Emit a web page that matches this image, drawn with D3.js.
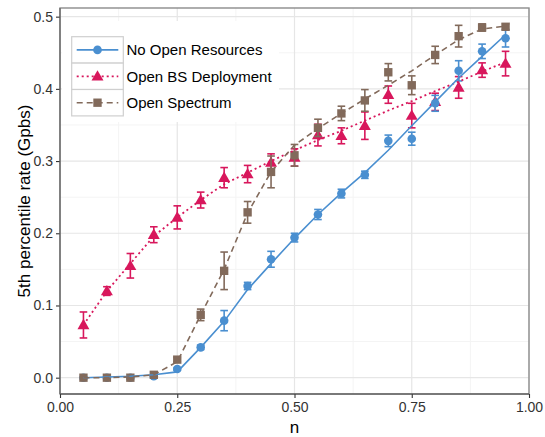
<!DOCTYPE html>
<html>
<head>
<meta charset="utf-8">
<script src="https://cdn.jsdelivr.net/npm/d3@7"></script>
<style>
  html, body { margin: 0; padding: 0; background: #fff; }
  svg { display: block; font-family: "Liberation Sans", Arial, Helvetica, sans-serif; }
</style>
</head>
<body>
<svg id="chart" width="545" height="437"></svg>
<script>
// ---- data ----
const nValues = [0.05,0.10,0.15,0.20,0.25,0.30,0.35,0.40,0.45,0.50,0.55,0.60,0.65,0.70,0.75,0.80,0.85,0.90,0.95];

const seriesNames = ["No Open Resources", "Open BS Deployment", "Open Spectrum"];

// mean values
const noOpenMean   = [0.000,0.000,0.000,0.002,0.012,0.042,0.079,0.127,0.164,0.194,0.226,0.255,0.281,0.328,0.331,0.380,0.425,0.452,0.470];
const openBSMean   = [0.073,0.120,0.155,0.198,0.222,0.246,0.277,0.282,0.298,0.305,0.336,0.335,0.349,0.392,0.363,0.382,0.402,0.426,0.435];
const openSpecMean = [0.000,0.000,0.000,0.004,0.025,0.087,0.148,0.229,0.285,0.308,0.346,0.366,0.384,0.423,0.405,0.447,0.473,0.485,0.486];

// error half-widths
const noOpenErr   = [0.000,0.000,0.000,0.001,0.002,0.003,0.014,0.005,0.011,0.006,0.007,0.006,0.005,0.008,0.009,0.011,0.014,0.010,0.012];
const openBSErr   = [0.018,0.006,0.017,0.011,0.016,0.011,0.014,0.012,0.012,0.012,0.015,0.011,0.019,0.012,0.017,0.012,0.015,0.010,0.017];
const openSpecErr = [0.000,0.000,0.000,0.002,0.003,0.008,0.026,0.015,0.022,0.015,0.012,0.010,0.015,0.012,0.013,0.012,0.015,0.005,0.004];

// fitted trend lines
const noOpenFit   = [0.000,0.001,0.002,0.004,0.008,0.042,0.078,0.122,0.158,0.193,0.226,0.256,0.284,0.315,0.349,0.382,0.415,0.445,0.475];
const openBSFit   = [0.073,0.120,0.158,0.196,0.222,0.246,0.268,0.284,0.300,0.315,0.329,0.342,0.356,0.370,0.383,0.397,0.410,0.424,0.437];
const openSpecFit = [0.000,0.000,0.001,0.004,0.022,0.087,0.150,0.228,0.285,0.322,0.345,0.366,0.386,0.405,0.425,0.447,0.468,0.483,0.487];

const xTicks = [0, 0.25, 0.5, 0.75, 1.0];
const xTickLabels = ["0.00","0.25","0.50","0.75","1.00"];
const yTicks = [0, 0.1, 0.2, 0.3, 0.4, 0.5];
const yTickLabels = ["0.0","0.1","0.2","0.3","0.4","0.5"];

const xTitle = "n";
const yTitle = "5th percentile rate (Gpbs)";

// ---- styling ----
const colors = ["#4a8fd0", "#d8175c", "#826a5b"];
const dashes = [null, "2,3", "6,4"];
const shapes = [d3.symbolCircle, d3.symbolTriangle, d3.symbolSquare];
const sizes = [58, 62, 70];

const svg = d3.select("#chart");
const L = 60, R = 529, T = 8, B = 394;

const x = d3.scaleLinear().domain([0, 1]).range([L, R]);
const y = d3.scaleLinear().domain([-0.0226, 0.512]).range([B, T]);

// grid
const minorX = [0.125, 0.375, 0.625, 0.875];
const minorY = [0.05, 0.15, 0.25, 0.35, 0.45];
const g = svg.append("g");
g.selectAll(".mx").data(minorX).enter().append("line")
  .attr("x1", d => x(d)).attr("x2", d => x(d)).attr("y1", T).attr("y2", B)
  .attr("stroke", "#f4f4f4").attr("stroke-width", 1);
g.selectAll(".my").data(minorY).enter().append("line")
  .attr("y1", d => y(d)).attr("y2", d => y(d)).attr("x1", L).attr("x2", R)
  .attr("stroke", "#f4f4f4").attr("stroke-width", 1);
g.selectAll(".gx").data(xTicks).enter().append("line")
  .attr("x1", d => x(d)).attr("x2", d => x(d)).attr("y1", T).attr("y2", B)
  .attr("stroke", "#e6e6e6").attr("stroke-width", 1.2);
g.selectAll(".gy").data(yTicks).enter().append("line")
  .attr("y1", d => y(d)).attr("y2", d => y(d)).attr("x1", L).attr("x2", R)
  .attr("stroke", "#e6e6e6").attr("stroke-width", 1.2);

// panel border
svg.append("rect").attr("x", L).attr("y", T).attr("width", R - L).attr("height", B - T)
  .attr("fill", "none").attr("stroke", "#8c8c8c").attr("stroke-width", 1.4);

// axes
const xAxis = d3.axisBottom(x).tickValues(xTicks).tickFormat((d, i) => xTickLabels[i]).tickSize(4).tickPadding(4);
const yAxis = d3.axisLeft(y).tickValues(yTicks).tickFormat((d, i) => yTickLabels[i]).tickSize(4).tickPadding(3);
const gx = svg.append("g").attr("transform", `translate(0,${B})`).call(xAxis);
const gy = svg.append("g").attr("transform", `translate(${L},0)`).call(yAxis);
[gx, gy].forEach(a => {
  a.select(".domain").remove();
  a.selectAll(".tick line").attr("stroke", "#333").attr("stroke-width", 1.1);
  a.selectAll(".tick text").attr("fill", "#333").style("font-size", "14px");
});
svg.append("line").attr("x1", L).attr("x2", R).attr("y1", B).attr("y2", B).attr("stroke", "#444").attr("stroke-width", 1.2);
svg.append("line").attr("x1", L).attr("x2", L).attr("y1", T).attr("y2", B).attr("stroke", "#666").attr("stroke-width", 1.2);

// titles
svg.append("text").attr("x", (L + R) / 2).attr("y", 433).attr("text-anchor", "middle")
  .style("font-size", "17px").attr("fill", "#000").text(xTitle);
svg.append("text").attr("transform", `translate(30,${(T + B) / 2}) rotate(-90)`).attr("text-anchor", "middle")
  .style("font-size", "17px").attr("fill", "#000").text(yTitle);

// series
const means = [noOpenMean, openBSMean, openSpecMean];
const errs = [noOpenErr, openBSErr, openSpecErr];
const fits = [noOpenFit, openBSFit, openSpecFit];
const drawOrder = [1, 0, 2];

drawOrder.forEach(s => {
  const data = nValues.map((n, i) => ({ n, v: means[s][i], e: errs[s][i] }));
  const sg = svg.append("g");
  const eb = sg.selectAll(".eb").data(data.filter(d => d.e > 0.0015)).enter().append("g");
  eb.append("line").attr("x1", d => x(d.n)).attr("x2", d => x(d.n))
    .attr("y1", d => y(d.v - d.e)).attr("y2", d => y(d.v + d.e))
    .attr("stroke", colors[s]).attr("stroke-width", 1.6);
  [-1, 1].forEach(sgn => {
    eb.append("line").attr("x1", d => x(d.n) - 3.8).attr("x2", d => x(d.n) + 3.8)
      .attr("y1", d => y(d.v + sgn * d.e)).attr("y2", d => y(d.v + sgn * d.e))
      .attr("stroke", colors[s]).attr("stroke-width", 1.6);
  });
  const sym = d3.symbol().type(shapes[s]).size(sizes[s]);
  sg.selectAll(".pt").data(data).enter().append("path")
    .attr("d", sym)
    .attr("transform", d => `translate(${x(d.n)},${y(d.v) + (s === 1 ? 0.8 : 0)})`)
    .attr("fill", colors[s]);
});

drawOrder.forEach(s => {
  const line = d3.line().x((d, i) => x(nValues[i])).y(d => y(d));
  svg.append("path").datum(fits[s]).attr("d", line)
    .attr("fill", "none").attr("stroke", colors[s]).attr("stroke-width", s === 1 ? 1.8 : 1.6)
    .attr("stroke-dasharray", dashes[s]);
});

// legend
const lg = svg.append("g");
lg.append("rect").attr("x", 62).attr("y", 21).attr("width", 217).attr("height", 101).attr("fill", "#fff");
const keyX = 71.7, keyW = 51.6, keyH = 26.4, keyY0 = 36.7;
seriesNames.forEach((name, s) => {
  const ky = keyY0 + s * keyH;
  lg.append("rect").attr("x", keyX).attr("y", ky).attr("width", keyW).attr("height", keyH)
    .attr("fill", "#fff").attr("stroke", "#cfcfcf").attr("stroke-width", 1.2);
  lg.append("line").attr("x1", keyX + 5).attr("x2", keyX + keyW - 5)
    .attr("y1", ky + keyH / 2).attr("y2", ky + keyH / 2)
    .attr("stroke", colors[s]).attr("stroke-width", s === 1 ? 1.8 : 1.6).attr("stroke-dasharray", dashes[s]);
  lg.append("path").attr("d", d3.symbol().type(shapes[s]).size(sizes[s]))
    .attr("transform", `translate(${keyX + keyW / 2},${ky + keyH / 2 + (s === 1 ? 0.8 : 0)})`)
    .attr("fill", colors[s]);
  lg.append("text").attr("x", 126.5).attr("y", ky + keyH / 2 + 5.3)
    .style("font-size", "15px").attr("fill", "#000").text(name);
});
</script>
</body>
</html>
